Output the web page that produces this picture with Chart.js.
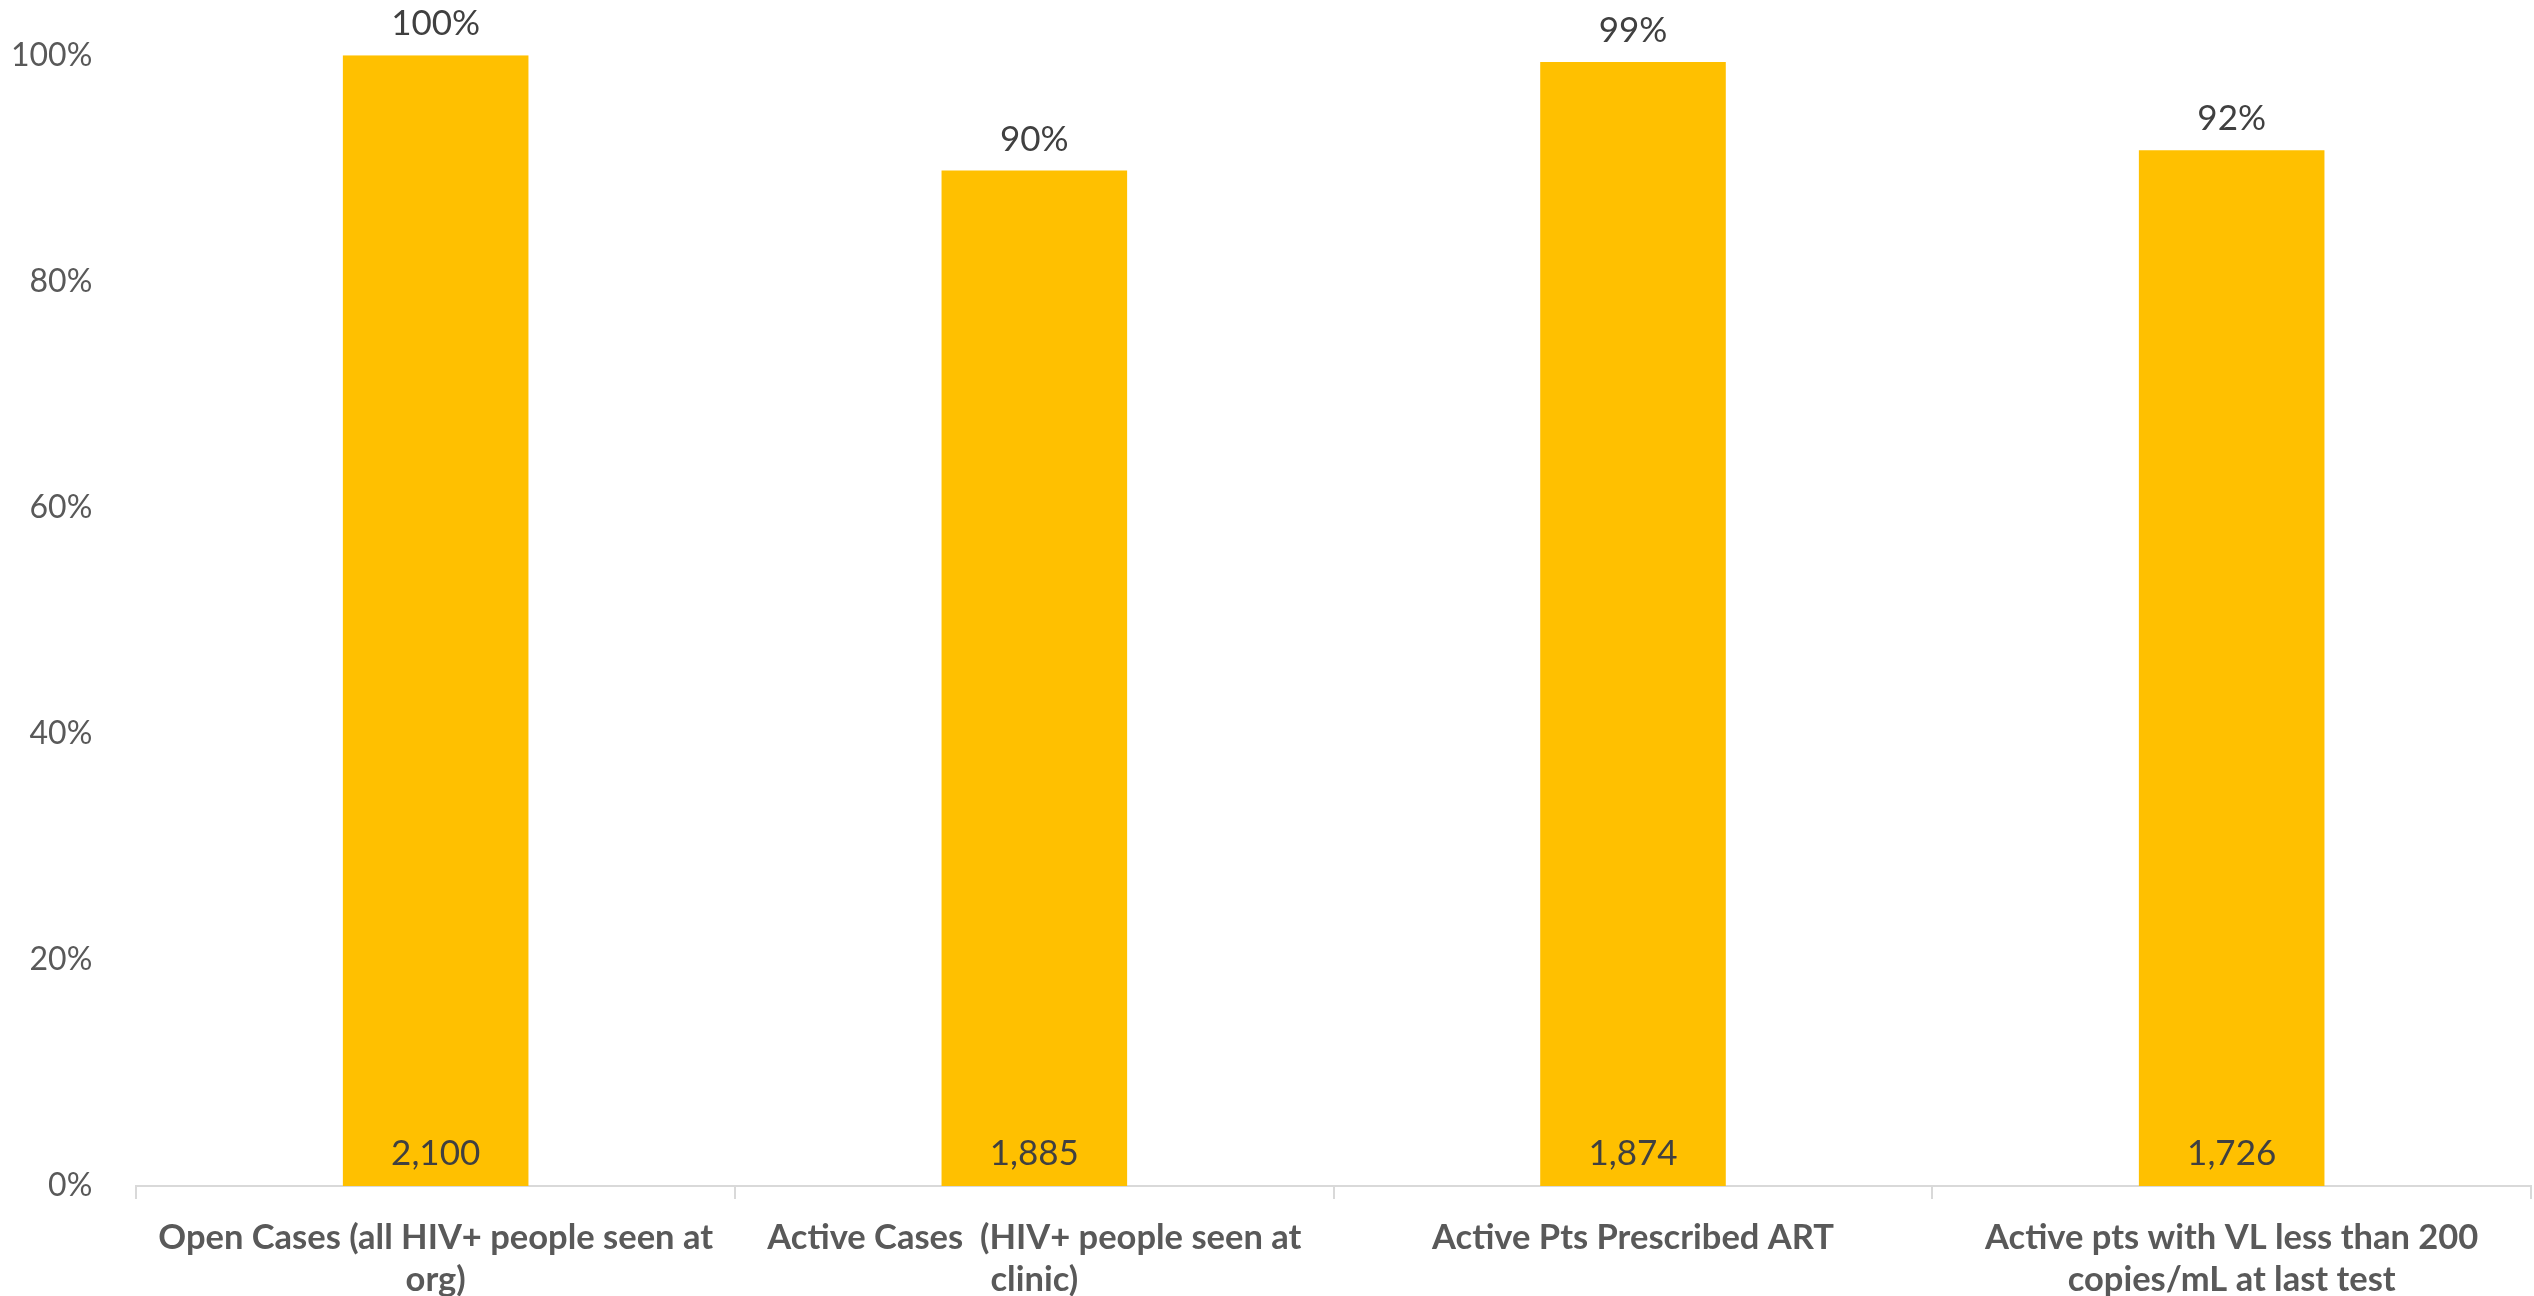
<!DOCTYPE html>
<html>
<head>
<meta charset="utf-8">
<script src="https://cdn.jsdelivr.net/npm/chart.js@4.4.1/dist/chart.umd.min.js"></script>
<style>
  html, body { margin: 0; padding: 0; background: #fff; }
  #wrap { width: 2534px; height: 1296px; position: relative; }
</style>
</head>
<body>
<div id="wrap"><canvas id="chart"></canvas></div>
<script>
// chart data
const categories = [
  ["Open Cases (all HIV+ people seen at", "org)"],
  ["Active Cases  (HIV+ people seen at", "clinic)"],
  ["Active Pts Prescribed ART"],
  ["Active pts with VL less than 200", "copies/mL at last test"]
];
const percentValues = [100, 89.8, 99.4, 91.6];
const patientCounts = [2100, 1885, 1874, 1726];
const yTicks = [0, 20, 40, 60, 80, 100];

const FONT = "Lato, 'Open Sans', sans-serif";

// draws the % label above each bar and the count at the bottom inside it
const barLabels = {
  id: "barLabels",
  afterDatasetsDraw(chart) {
    const ctx = chart.ctx;
    const meta = chart.getDatasetMeta(0);
    ctx.save();
    ctx.fillStyle = "#404040";
    ctx.font = "35px " + FONT;
    ctx.textAlign = "center";
    ctx.textBaseline = "middle";
    meta.data.forEach((bar, i) => {
      ctx.fillText(Math.round(percentValues[i]) + "%", bar.x, bar.y - 31);
      ctx.fillText(patientCounts[i].toLocaleString("en-US"), bar.x, bar.base - 32);
    });
    ctx.restore();
  }
};

new Chart(document.getElementById("chart"), {
  type: "bar",
  data: {
    labels: categories,
    datasets: [{
      data: percentValues,
      backgroundColor: "#FFC000",
      borderWidth: 0,
      barPercentage: 0.31,
      categoryPercentage: 1
    }]
  },
  options: {
    responsive: true,
    maintainAspectRatio: false,
    animation: false,
    layout: { padding: { top: 55, left: -25, right: 3, bottom: 0 } },
    plugins: {
      legend: { display: false },
      tooltip: { enabled: false }
    },
    scales: {
      x: {
        // second label line runs off the bottom edge like the original
        afterFit(axis) { axis.height = 110; },
        grid: {
          display: true,
          drawOnChartArea: false,
          drawTicks: true,
          tickLength: 13,
          color: "#d9d9d9",
          lineWidth: 2
        },
        border: { display: true, color: "#d9d9d9", width: 2 },
        ticks: {
          color: "#595959",
          font: { family: FONT, size: 34.5, weight: "bold", lineHeight: 1.24 },
          padding: 17,
          maxRotation: 0,
          autoSkip: false
        }
      },
      y: {
        min: 0,
        max: 100,
        afterBuildTicks(axis) { axis.ticks = yTicks.map(v => ({ value: v })); },
        grid: { display: false },
        border: { display: false },
        ticks: {
          color: "#595959",
          font: { family: FONT, size: 32 },
          padding: 36,
          callback: v => v + "%"
        }
      }
    }
  },
  plugins: [barLabels]
});
</script>
</body>
</html>
